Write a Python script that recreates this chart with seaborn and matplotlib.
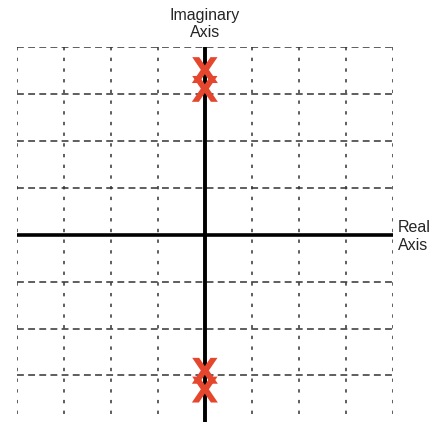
import matplotlib
matplotlib.use("Agg")
import matplotlib.pyplot as plt
import seaborn as sns
import pandas as pd

# Pole locations in the complex s-plane
pole_real = [0.0, 0.0, 0.0, 0.0]
pole_imag = [3.5, 3.1, -2.9, -3.3]

grid_x = [-4, -3, -2, -1, 1, 2, 3, 4]
grid_y = [4, 3, 2, 1, -1, -2, -3]

sns.set_theme(style="white")
plt.rcParams["font.family"] = ["Liberation Sans", "DejaVu Sans"]
plt.rcParams["mathtext.fontset"] = "dejavusans"

W, H = 437, 422
fig = plt.figure(figsize=(W / 100, H / 100), dpi=100)
ax = fig.add_axes([17 / W, 0.0, 375.7 / W, 375.4 / H])
ax.set_xlim(-4, 4)
ax.set_ylim(-3.99, 4)
ax.axis("off")

# dashed grid
for gy in grid_y:
    ax.plot([-4, 4], [gy, gy], color="#333333", lw=1.1,
            dashes=(4.5, 2.8), solid_capstyle="butt", zorder=1)
for gx in grid_x:
    ax.plot([gx, gx], [4, -3.87], color="#333333", lw=1.1,
            dashes=(2.2, 4.8), solid_capstyle="butt", zorder=1)

# real and imaginary axes
ax.plot([-4, 4], [0, 0], color="black", lw=2.6, zorder=2, solid_capstyle="butt")
ax.plot([0, 0], [4, -4.1], color="black", lw=2.8, zorder=2,
        solid_capstyle="butt", clip_on=False)

poles = pd.DataFrame({"re": pole_real, "im": pole_imag})
sns.scatterplot(data=poles, x="re", y="im", ax=ax, marker=r"$\mathbf{X}$",
                s=350, color="#E5472E", edgecolor="none", linewidth=0,
                zorder=3, legend=False, clip_on=False)

fig.text(205 / W, 1 - 24 / H, "Imaginary\nAxis", ha="center", va="center",
         fontsize=11.5, linespacing=1.2)
fig.text(398 / W, 1 - 236.5 / H, "Real\nAxis", ha="left", va="center",
         fontsize=11.5, linespacing=1.2)

fig.savefig("out.png", dpi=100)
